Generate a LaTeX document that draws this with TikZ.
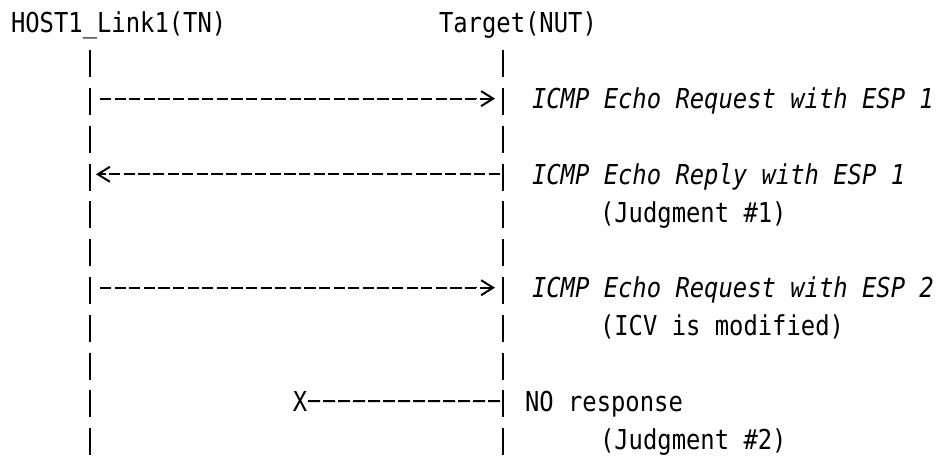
\documentclass[tikz,border=0pt]{standalone}
\usepackage{fontspec}
\usetikzlibrary{arrows.meta}
% narrow monospaced face for all labels
\newfontfamily\seqfont{DejaVu Sans Mono}[FakeStretch=0.87]
\newcommand{\seqsize}{\fontsize{27.4}{30}\selectfont}
\begin{document}
\begin{tikzpicture}[x=1pt,y=-1pt,
  every node/.style={inner sep=0pt, outer sep=0pt, anchor=base west},
  plainlbl/.style={font=\seqfont\seqsize},
  msglbl/.style={font=\seqfont\itshape\seqsize},
  lifeline/.style={line width=2.2pt, dash pattern=on 27pt off 10.82pt},
  msg/.style={line width=2pt, dash pattern=on 11.2pt off 3.4pt},
  % open chevron head, kept a little apart from the dashed shaft
  tipped/.style={-{Bar[width=0pt,line width=0pt,sep=3.5pt]Straight Barb[length=12pt,width=15pt,line width=2pt]}},
]
\fill[white] (0,0) rectangle (945,457);
\useasboundingbox (0,0) rectangle (945,457);

% header labels
\node[plainlbl] (host) at (11,33) {HOST1\_Link1(TN)};
\node[plainlbl] (target) at (439,33) {Target(NUT)};

% lifelines
\coordinate (hostTop) at (90,50.1);
\coordinate (hostBot) at (90,457);
\coordinate (tgtTop) at (503,50.1);
\coordinate (tgtBot) at (503,457);
\draw[lifeline] (hostTop) -- (hostBot);
\draw[lifeline] (tgtTop) -- (tgtBot);

% message rows
\coordinate (h2) at (90,98.6);   \coordinate (t2) at (503,98.6);
\coordinate (h4) at (90,174.3);  \coordinate (t4) at (503,174.3);
\coordinate (h7) at (90,287.7);  \coordinate (t7) at (503,287.7);
\coordinate (t10) at (503,401.2);

\draw[msg, tipped, shorten <=10pt, shorten >=8pt] (h2) -- (t2);
\node[msglbl] (req1) at (532,108.6) {ICMP Echo Request with ESP 1};

\draw[msg, tipped, shorten <=3pt, shorten >=6pt] (t4) -- (h4);
\node[msglbl] (rep1) at (532,184.3) {ICMP Echo Reply with ESP 1};
\node[plainlbl] (judg1) at (600,222.1) {(Judgment \#1)};

\draw[msg, tipped, shorten <=10pt, shorten >=8pt] (h7) -- (t7);
\node[msglbl] (req2) at (532,297.7) {ICMP Echo Request with ESP 2};
\node[plainlbl] (icv) at (600,335.6) {(ICV is modified)};

\node[plainlbl, anchor=base] (lost) at (300,411.2) {X};
\draw[msg, dash pattern=on 11.8pt off 3.2pt, shorten <=3pt] (t10) -- (lost.east);
\node[plainlbl] (nores) at (525,411.2) {NO response};
\node[plainlbl] (judg2) at (600,449.0) {(Judgment \#2)};
\end{tikzpicture}
\end{document}
